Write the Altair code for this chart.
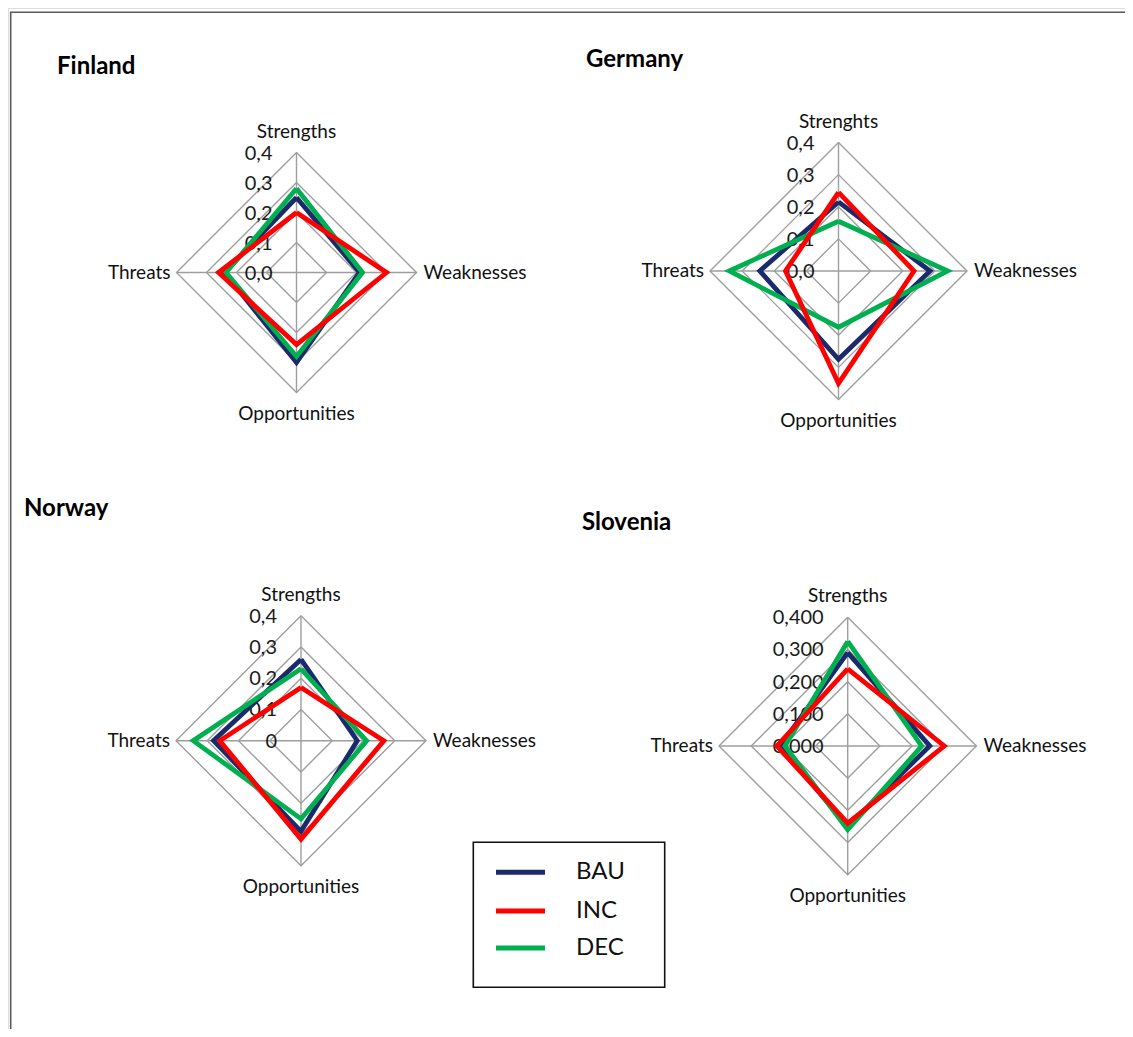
import altair as alt
import pandas as pd

# ---------------- data ----------------
COUNTRIES = ["Finland", "Germany", "Norway", "Slovenia"]
SCENARIOS = ["BAU", "INC", "DEC"]
COLORS = ["#1b2a6b", "#ff0000", "#00b050"]

AXIS_NAMES = {
    "Finland": ["Strengths", "Weaknesses", "Opportunities", "Threats"],
    "Germany": ["Strenghts", "Weaknesses", "Opportunities", "Threats"],
    "Norway": ["Strengths", "Weaknesses", "Opportunities", "Threats"],
    "Slovenia": ["Strengths", "Weaknesses", "Opportunities", "Threats"],
}
TICKS = [0.0, 0.1, 0.2, 0.3, 0.4]
TICK_LABELS = {
    "Finland": ["0,0", "0,1", "0,2", "0,3", "0,4"],
    "Germany": ["0,0", "0,1", "0,2", "0,3", "0,4"],
    "Norway": ["0", "0,1", "0,2", "0,3", "0,4"],
    "Slovenia": ["0,000", "0,100", "0,200", "0,300", "0,400"],
}

# values in order: Strengths, Weaknesses, Opportunities, Threats
finland_bau = [0.25, 0.21, 0.30, 0.24]
finland_inc = [0.20, 0.30, 0.24, 0.26]
finland_dec = [0.28, 0.22, 0.28, 0.235]
germany_bau = [0.215, 0.285, 0.275, 0.245]
germany_inc = [0.245, 0.235, 0.35, 0.165]
germany_dec = [0.155, 0.34, 0.175, 0.34]
norway_bau = [0.26, 0.18, 0.29, 0.28]
norway_inc = [0.17, 0.265, 0.315, 0.26]
norway_dec = [0.23, 0.21, 0.25, 0.345]
slovenia_bau = [0.29, 0.255, 0.25, 0.21]
slovenia_inc = [0.24, 0.30, 0.24, 0.22]
slovenia_dec = [0.325, 0.23, 0.26, 0.195]

VALUES = {
    "Finland": {"BAU": finland_bau, "INC": finland_inc, "DEC": finland_dec},
    "Germany": {"BAU": germany_bau, "INC": germany_inc, "DEC": germany_dec},
    "Norway": {"BAU": norway_bau, "INC": norway_inc, "DEC": norway_dec},
    "Slovenia": {"BAU": slovenia_bau, "INC": slovenia_inc, "DEC": slovenia_dec},
}

# ---------------- layout (page pixel space) ----------------
PANELS = {  # centre x, centre y, radius of 0.4
    "Finland": (296.5, 272.5, 120.0),
    "Germany": (838.5, 271.0, 128.5),
    "Norway": (301.0, 740.7, 125.0),
    "Slovenia": (847.7, 746.0, 128.7),
}
TITLE_POS = {
    "Finland": (57, 74),
    "Germany": (586, 67),
    "Norway": (24, 516),
    "Slovenia": (582, 530),
}
RMAX = 0.4
DIRS = [(0, -1), (1, 0), (0, 1), (-1, 0)]

W, H = 1117, 1021
xs = alt.Scale(domain=[8, 8 + W], nice=False, zero=False)
ys = alt.Scale(domain=[8, 8 + H], nice=False, zero=False, reverse=True)
X = lambda f: alt.X(f, type="quantitative", scale=xs, axis=None)
Y = lambda f: alt.Y(f, type="quantitative", scale=ys, axis=None)
color_scale = alt.Scale(domain=SCENARIOS, range=COLORS)

# series polygons
srows = []
for c in COUNTRIES:
    cx, cy, R = PANELS[c]
    for s in SCENARIOS:
        vals = VALUES[c][s]
        for k in range(5):
            i = k % 4
            v = vals[i]
            dx, dy = DIRS[i]
            srows.append({"country": c, "scenario": s, "order": k, "value": v,
                          "x": cx + v / RMAX * R * dx, "y": cy + v / RMAX * R * dy})
series = pd.DataFrame(srows)

# grid diamonds
grows = []
for c in COUNTRIES:
    cx, cy, R = PANELS[c]
    for lv in TICKS[1:]:
        for k in range(5):
            dx, dy = DIRS[k % 4]
            grows.append({"key": f"{c}-{lv}", "order": k,
                          "x": cx + lv / RMAX * R * dx, "y": cy + lv / RMAX * R * dy})
grid = pd.DataFrame(grows)

# spokes
sprows = []
for c in COUNTRIES:
    cx, cy, R = PANELS[c]
    sprows.append({"x": cx, "y": cy - R, "x2": cx, "y2": cy + R})
    sprows.append({"x": cx - R, "y": cy, "x2": cx + R, "y2": cy})
spokes = pd.DataFrame(sprows)

# tick labels
trows = []
for c in COUNTRIES:
    cx, cy, R = PANELS[c]
    for lv, lab in zip(TICKS, TICK_LABELS[c]):
        trows.append({"x": cx - 24, "y": cy - lv / RMAX * R + 1, "label": lab})
ticks = pd.DataFrame(trows)

# category labels
top_rows, bot_rows, right_rows, left_rows = [], [], [], []
for c in COUNTRIES:
    cx, cy, R = PANELS[c]
    names = AXIS_NAMES[c]
    top_rows.append({"x": cx, "y": cy - R - 15, "label": names[0]})
    right_rows.append({"x": cx + R + 7, "y": cy, "label": names[1]})
    bot_rows.append({"x": cx, "y": cy + R + 27, "label": names[2]})
    left_rows.append({"x": cx - R - 6, "y": cy, "label": names[3]})

titles = pd.DataFrame([{"x": TITLE_POS[c][0], "y": TITLE_POS[c][1], "label": c} for c in COUNTRIES])

FONT = "Lato"
layers = []

# frame
frame = pd.DataFrame([
    {"x": 10, "y": 12.3, "x2": 8 + W, "y2": 12.3},
    {"x": 10.7, "y": 12.3, "x2": 10.7, "y2": 8 + H},
])
layers.append(alt.Chart(frame).mark_rule(color="#5a5a5a", strokeWidth=1.6).encode(
    x=X("x"), y=Y("y"), x2="x2", y2="y2"))

layers.append(alt.Chart(grid).mark_line(color="#9e9e9e", strokeWidth=1.4).encode(
    x=X("x"), y=Y("y"), detail="key:N", order="order:Q"))
layers.append(alt.Chart(spokes).mark_rule(color="#9e9e9e", strokeWidth=1.4).encode(
    x=X("x"), y=Y("y"), x2="x2", y2="y2"))

layers.append(alt.Chart(ticks).mark_text(font=FONT, fontSize=20, align="right", baseline="middle",
                                         color="#1a1a1a").encode(x=X("x"), y=Y("y"), text="label:N"))

for s in ["BAU", "DEC", "INC"]:
    d = series[series["scenario"] == s]
    layers.append(alt.Chart(d).mark_line(strokeWidth=4.8, strokeJoin="miter").encode(
        x=X("x"), y=Y("y"), detail="country:N", order="order:Q",
        color=alt.Color("scenario:N", scale=color_scale, legend=None)))

LBL = 19
layers.append(alt.Chart(pd.DataFrame(top_rows)).mark_text(font=FONT, fontSize=LBL, align="center",
                                                          baseline="alphabetic", color="#111").encode(
    x=X("x"), y=Y("y"), text="label:N"))
layers.append(alt.Chart(pd.DataFrame(bot_rows)).mark_text(font=FONT, fontSize=LBL, align="center",
                                                          baseline="alphabetic", color="#111").encode(
    x=X("x"), y=Y("y"), text="label:N"))
layers.append(alt.Chart(pd.DataFrame(right_rows)).mark_text(font=FONT, fontSize=LBL, align="left",
                                                            baseline="middle", color="#111").encode(
    x=X("x"), y=Y("y"), text="label:N"))
layers.append(alt.Chart(pd.DataFrame(left_rows)).mark_text(font=FONT, fontSize=LBL, align="right",
                                                           baseline="middle", color="#111").encode(
    x=X("x"), y=Y("y"), text="label:N"))

layers.append(alt.Chart(titles).mark_text(font=FONT, fontSize=24, fontWeight="bold", align="left",
                                          baseline="alphabetic", color="#000").encode(
    x=X("x"), y=Y("y"), text="label:N"))

# legend box
LEG_BOX = (473.3, 842.3, 664.7, 987.3)
LEG_Y = [872.3, 911.0, 948.0]
box = pd.DataFrame([{"x": LEG_BOX[0], "y": LEG_BOX[1], "x2": LEG_BOX[2], "y2": LEG_BOX[3]}])
layers.append(alt.Chart(box).mark_rect(fill="white", stroke="#111111", strokeWidth=1.6).encode(
    x=X("x"), y=Y("y"), x2="x2", y2="y2"))
leg = pd.DataFrame([{"scenario": s, "y": yy, "x": 496, "x2": 545, "tx": 576} for s, yy in zip(SCENARIOS, LEG_Y)])
layers.append(alt.Chart(leg).mark_rule(strokeWidth=5).encode(
    x=X("x"), x2="x2", y=Y("y"),
    color=alt.Color("scenario:N", scale=color_scale, legend=None)))
layers.append(alt.Chart(leg).mark_text(font=FONT, fontSize=24, align="left", baseline="middle",
                                       color="#111").encode(x=X("tx"), y=Y("y"), text="scenario:N"))

chart = alt.layer(*layers).properties(
    width=W, height=H, padding=0, autosize=alt.AutoSizeParams(type="none")
).configure_view(stroke=None).configure(background="white")

chart.save("out.html", embed_options={"renderer": "svg", "actions": False})
